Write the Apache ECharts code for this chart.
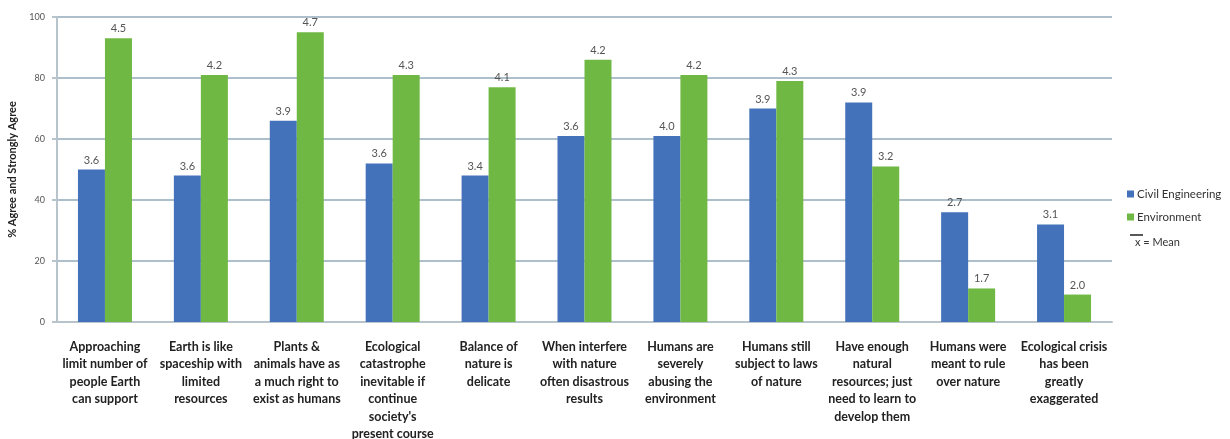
<!DOCTYPE html>
<html lang="en">
<head>
    <meta charset="UTF-8"/>
    <title>attitudes</title>
    <script src="https://cdn.jsdelivr.net/npm/echarts@6/dist/echarts.min.js"></script>
</head>
<body style="margin:0;background:#fff">
<div id="main" style="width:1230px;height:439px"></div>

<script type="text/javascript">
    // statements (x axis)
    var categories = [
        'Approaching\nlimit number of\npeople Earth\ncan support',
        'Earth is like\nspaceship with\nlimited\nresources',
        'Plants &\nanimals have as\na much right to\nexist as humans',
        'Ecological\ncatastrophe\ninevitable if\ncontinue\nsociety\'s\npresent course',
        'Balance of\nnature is\ndelicate',
        'When interfere\nwith nature\noften disastrous\nresults',
        'Humans are\nseverely\nabusing the\nenvironment',
        'Humans still\nsubject to laws\nof nature',
        'Have enough\nnatural\nresources; just\nneed to learn to\ndevelop them',
        'Humans were\nmeant to rule\nover nature',
        'Ecological crisis\nhas been\ngreatly\nexaggerated'
    ];
    // % agree and strongly agree
    var civilPct = [50, 48, 66, 52, 48, 61, 61, 70, 72, 36, 32];
    var envPct   = [93, 81, 95, 81, 77, 86, 81, 79, 51, 11, 9];
    // means shown above bars
    var civilMean = ['3.6', '3.6', '3.9', '3.6', '3.4', '3.6', '4.0', '3.9', '3.9', '2.7', '3.1'];
    var envMean   = ['4.5', '4.2', '4.7', '4.3', '4.1', '4.2', '4.2', '4.3', '3.2', '1.7', '2.0'];
    var yTicks = [0, 20, 40, 60, 80, 100];

    var myChart = echarts.init(document.getElementById('main'));

    function meanLabel(arr) {
        return {
            show: true,
            position: 'top',
            distance: 4,
            fontFamily: 'Lato',
            fontSize: 11,
            color: '#555',
            formatter: function (p) { return arr[p.dataIndex]; }
        };
    }

    var option = {
        textStyle: {fontFamily: 'Lato'},
        grid: {left: 57, right: 118, top: 17, bottom: 117, outerBoundsMode: 'none'},
        legend: {
            orient: 'vertical',
            left: 1122,
            top: 183,
            itemWidth: 7,
            itemHeight: 7,
            itemGap: 11,
            icon: 'rect',
            textStyle: {fontSize: 11.5, color: '#333', fontFamily: 'Lato', padding: [0, 0, 0, -2]},
            data: ['Civil Engineering', 'Environment']
        },
        graphic: [
            {
                type: 'text',
                left: 1135,
                top: 237,
                style: {text: 'x = Mean', fontSize: 11, fill: '#333', fontFamily: 'Lato'}
            },
            {
                type: 'line',
                shape: {x1: 1130, y1: 235, x2: 1143, y2: 235},
                style: {stroke: '#222', lineWidth: 1.5}
            }
        ],
        xAxis: {
            type: 'category',
            data: categories,
            axisLine: {lineStyle: {color: '#b8c4cc', width: 2}},
            axisTick: {show: false},
            axisLabel: {
                interval: 0,
                margin: 16,
                fontSize: 12.5,
                fontWeight: 'bold',
                lineHeight: 17.5,
                color: '#222',
                fontFamily: 'Lato'
            }
        },
        yAxis: {
            type: 'value',
            min: yTicks[0],
            max: yTicks[yTicks.length - 1],
            interval: 20,
            name: '% Agree and Strongly Agree',
            nameLocation: 'middle',
            nameGap: 29,
            nameTextStyle: {fontSize: 11, fontWeight: 'bold', color: '#222', fontFamily: 'Lato'},
            axisLine: {show: true, lineStyle: {color: '#b8c4cc', width: 2}},
            axisTick: {show: true, length: 5, lineStyle: {color: '#b8c4cc', width: 2}},
            axisLabel: {fontSize: 9, color: '#555', margin: 12},
            splitLine: {lineStyle: {color: '#aebfcc', width: 2}}
        },
        series: [
            {
                name: 'Civil Engineering',
                type: 'bar',
                data: civilPct,
                barWidth: 27,
                barGap: '0%',
                itemStyle: {color: '#4472ba'},
                label: meanLabel(civilMean)
            },
            {
                name: 'Environment',
                type: 'bar',
                data: envPct,
                barWidth: 27,
                barGap: '0%',
                itemStyle: {color: '#6fb843'},
                label: meanLabel(envMean)
            }
        ]
    };
    myChart.setOption(option);
</script>
</body>
</html>
